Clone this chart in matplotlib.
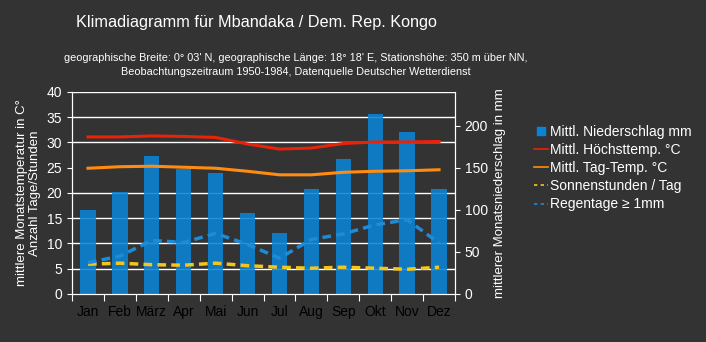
import numpy as np
import matplotlib.pyplot as plt
from matplotlib.lines import Line2D

# === Data ===
months = ["Jan", "Feb", "März", "Apr", "Mai", "Jun", "Jul", "Aug", "Sep", "Okt", "Nov", "Dez"]
niederschlag = [100, 121, 164, 148, 144, 96, 72, 125, 160, 214, 193, 125]
hoechsttemp = [31.1, 31.1, 31.3, 31.2, 31.0, 29.7, 28.7, 28.9, 29.8, 30.1, 30.1, 30.2]
tagtemp = [24.9, 25.2, 25.3, 25.1, 24.9, 24.3, 23.6, 23.6, 24.1, 24.3, 24.4, 24.6]
sonne = [5.9, 6.1, 5.8, 5.7, 6.1, 5.6, 5.3, 5.1, 5.3, 5.1, 4.9, 5.3]
regentage = [6.2, 7.5, 10.6, 10.2, 12.0, 9.8, 7.1, 10.8, 11.9, 13.7, 14.7, 10.1]
labels = ["Mittl. Niederschlag mm", "Mittl. Höchsttemp. °C", "Mittl. Tag-Temp. °C",
          "Sonnenstunden / Tag", "Regentage ≥ 1mm"]

bg = "#333333"
fg = "white"
c_bar, c_max, c_tag, c_sun, c_rain = "#0a84d6", "#e8230a", "#ff8c10", "#f4c51c", "#1d8bd8"
plt.rcParams["font.family"] = ["Liberation Sans", "DejaVu Sans"]

fig = plt.figure(figsize=(7.06, 3.42), dpi=100, facecolor=bg)
ax = fig.add_axes([0.102, 0.1404, 0.5425, 0.5906])
ax2 = ax.twinx()

x = np.arange(len(months)) + 0.5

# === Bars (right axis), grid drawn below them ===
ax2.set_ylim(0, 240)
ax2.set_yticks([0, 50, 100, 150, 200])
ax2.set_yticks(np.arange(0, 241, 30), minor=True)
ax2.tick_params(axis="y", which="minor", length=0)
ax2.grid(axis="y", which="minor", color=fg, lw=1.0)
ax2.set_axisbelow(True)
ax2.bar(x, niederschlag, width=0.48, color=c_bar, alpha=0.88, zorder=2)

# === Lines (left axis) ===
ax.set_zorder(ax2.get_zorder() + 1)
ax.patch.set_visible(False)
ax2.patch.set_facecolor(bg)
ax.plot(x, hoechsttemp, color=c_max, lw=2.2)
ax.plot(x, tagtemp, color=c_tag, lw=2.2)
ax.plot(x, sonne, color=c_sun, lw=2.5, ls=(0, (2.5, 1.5)))
ax.plot(x, regentage, color=c_rain, lw=2.5, ls=(0, (2.5, 1.5)))

ax.set_xlim(0, 12)
ax.set_ylim(0, 40)
ax.set_yticks(np.arange(0, 41, 5))
ax.set_xticks(np.arange(0, 13))
ax.set_xticklabels([])
ax.set_xticks(x, minor=True)
ax.set_xticklabels(months, minor=True)
ax.tick_params(axis="x", which="minor", length=0, pad=8)
ax.tick_params(axis="x", which="major", length=5, color=fg)
for a in (ax, ax2):
    a.tick_params(colors=fg, labelsize=10)
    for s in a.spines.values():
        s.set_color(fg)
    a.spines["top"].set_visible(False)

ax.set_ylabel("mittlere Monatstemperatur in C°\nAnzahl Tage/Stunden", color=fg, fontsize=9.5,
              linespacing=1.1, labelpad=4)
ax2.set_ylabel("mittlerer Monatsniederschlag in mm", color=fg, fontsize=9.5, labelpad=4)

# === Legend ===
handles = [
    Line2D([], [], ls="none", marker="s", markersize=6, color=c_bar),
    Line2D([], [], color=c_max, lw=1.2),
    Line2D([], [], color=c_tag, lw=1.2),
    Line2D([], [], color=c_sun, lw=1.2, ls=(0, (2, 2))),
    Line2D([], [], color=c_rain, lw=1.2, ls=(0, (2, 2))),
]
leg = fig.legend(handles, labels, loc="upper left", bbox_to_anchor=(0.757, 0.635), frameon=False,
                 fontsize=10, handlelength=1.0, handletextpad=0.15, labelspacing=0.3,
                 borderpad=0, borderaxespad=0)
for t in leg.get_texts():
    t.set_color(fg)

# === Titles ===
fig.text(0.363, 0.933, "Klimadiagramm für Mbandaka / Dem. Rep. Kongo", color=fg,
         fontsize=11.7, ha="center", va="center")
fig.text(0.419, 0.83, "geographische Breite: 0° 03' N, geographische Länge: 18° 18' E, Stationshöhe: 350 m über NN,",
         color=fg, fontsize=7.8, ha="center", va="center")
fig.text(0.419, 0.79, "Beobachtungszeitraum 1950-1984, Datenquelle Deutscher Wetterdienst",
         color=fg, fontsize=7.8, ha="center", va="center")

fig.savefig("out.png", dpi=100, facecolor=bg)
